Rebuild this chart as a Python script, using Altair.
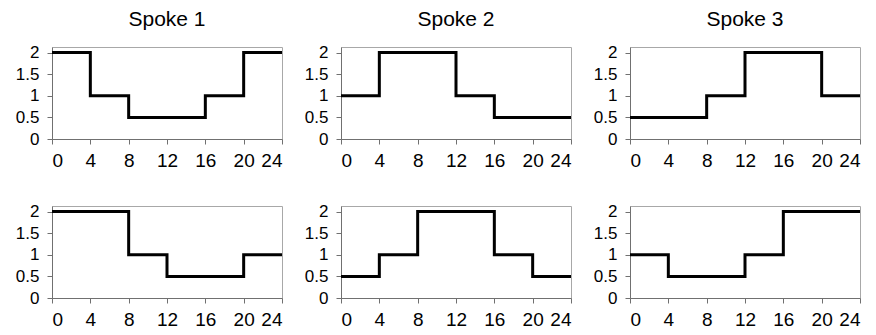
import altair as alt
import pandas as pd

hours = [0, 4, 8, 12, 16, 20, 24]
titles = ["Spoke 1", "Spoke 2", "Spoke 3"]

top_spoke1 = [2, 1, 0.5, 0.5, 1, 2, 2]
top_spoke2 = [1, 2, 2, 1, 0.5, 0.5, 0.5]
top_spoke3 = [0.5, 0.5, 1, 2, 2, 1, 1]
bot_spoke1 = [2, 2, 1, 0.5, 0.5, 1, 1]
bot_spoke2 = [0.5, 1, 2, 2, 1, 0.5, 0.5]
bot_spoke3 = [1, 0.5, 0.5, 1, 2, 2, 2]

series = [top_spoke1, top_spoke2, top_spoke3, bot_spoke1, bot_spoke2, bot_spoke3]

rows = []
for p, vals in enumerate(series):
    for h, v in zip(hours, vals):
        rows.append({"panel": p, "hour": h, "value": v})
df = pd.DataFrame(rows)

x_ticks = [0, 4, 8, 12, 16, 20, 24]
y_ticks = [0, 0.5, 1, 1.5, 2]

W, H = 230, 92


def panel(p, title=None):
    base = alt.Chart(df).transform_filter(alt.datum.panel == p).mark_line(
        interpolate="step-after", color="black", strokeWidth=3
    ).encode(
        x=alt.X("hour:Q", scale=alt.Scale(domain=[0, 24], nice=False),
                axis=alt.Axis(values=x_ticks, title=None, grid=False,
                              labelFontSize=19, labelPadding=7, tickSize=5)),
        y=alt.Y("value:Q", scale=alt.Scale(domain=[0, 2.13], nice=False, zero=True),
                axis=alt.Axis(values=y_ticks, format="~g", title=None, grid=False,
                              labelFontSize=17, labelPadding=8, tickSize=5)),
    )
    if title is not None:
        return base.properties(width=W, height=H, title=title)
    return base.properties(width=W, height=H)


top = alt.hconcat(*[panel(i, titles[i]) for i in range(3)], spacing=14)
bottom = alt.hconcat(*[panel(i + 3) for i in range(3)], spacing=14)

chart = alt.vconcat(top, bottom, spacing=31).properties(
    padding={"left": 6, "top": 0, "right": 0, "bottom": 0}
).configure_view(
    stroke="#a8a8a8", strokeWidth=1
).configure_axis(
    domainColor="#707070", tickColor="#707070", labelColor="black",
    labelFont="Liberation Sans", domainWidth=1, tickWidth=1
).configure_title(
    font="Liberation Sans", fontSize=21, fontWeight="normal", color="black", offset=14
)

chart.save("out.html", embed_options={"renderer": "svg", "actions": False})
